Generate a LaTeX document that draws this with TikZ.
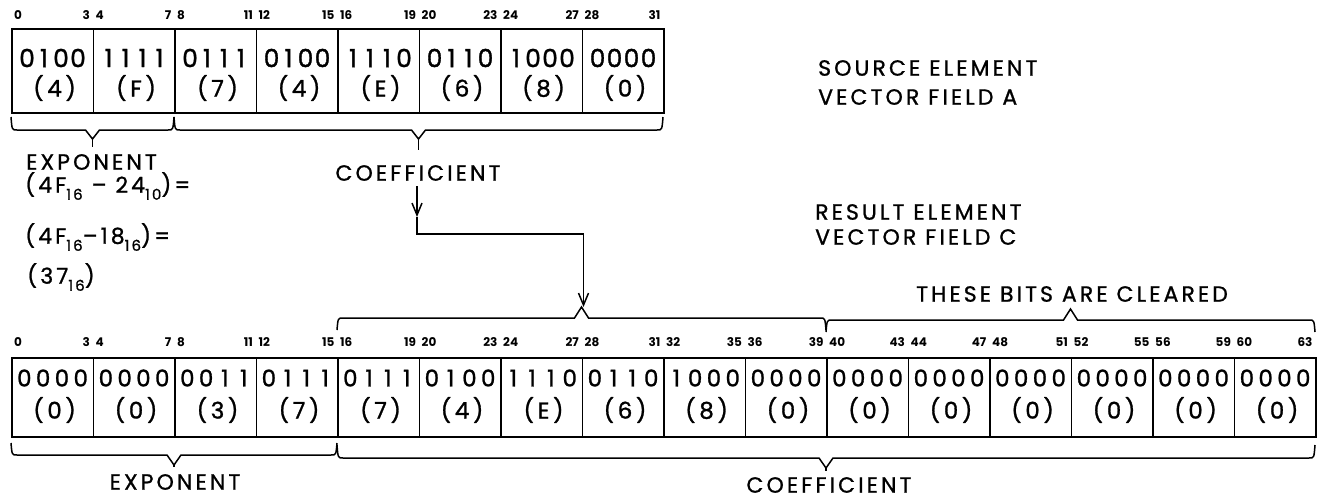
\documentclass[tikz,border=0pt]{standalone}
\usepackage{fontspec}
\setmainfont{Poppins}
\newfontfamily\lblfont{Poppins}[LetterSpace=14,FakeBold=1]
\newfontfamily\cellfont{Poppins}[FakeBold=1.2]
\newfontfamily\hexfont{Poppins}[LetterSpace=16,FakeBold=1.2]
\usetikzlibrary{arrows.meta,calc}
\newcommand\sbs[1]{\raisebox{-0.32em}{\fontsize{15}{15}\selectfont #1}}
\newlength\dgw
\newcommand\fourd[4]{\makebox[\dgw][c]{#1}\makebox[\dgw][c]{#2}\makebox[\dgw][c]{#3}\makebox[\dgw][c]{#4}}
% brace: #1 xa, #2 xb, #3 end y, #4 bar y, #5 tip y, #6 stem end y
\newcommand\mybrace[6]{%
  \draw[brace] (#1,#3) .. controls ({#1+1},#4) .. ({#1+6},#4) -- ({(#1+#2)/2-7},#4) -- ({(#1+#2)/2},#5)
     -- ({(#1+#2)/2+7},#4) -- ({#2-6},#4) .. controls ({#2-1},#4) .. (#2,#3);
  \draw[brace] ({(#1+#2)/2},#5) -- ({(#1+#2)/2},#6);}
\begin{document}
\begin{tikzpicture}[x=1pt,y=-1pt,
  reg/.style={draw,line width=1.6pt,minimum width=81.5pt,inner sep=0pt,anchor=north west},
  bina/.style={font={\cellfont\fontsize{25}{25}\selectfont\setlength\dgw{17pt}},inner sep=0pt},
  binc/.style={font={\cellfont\fontsize{23}{23}\selectfont\setlength\dgw{18.8pt}},inner sep=0pt},
  hex/.style={font={\hexfont\fontsize{23}{23}\selectfont},inner sep=0pt},
  bitno/.style={font=\bfseries\fontsize{12}{12}\selectfont,inner sep=0pt},
  lbl/.style={font={\lblfont\fontsize{22}{22}\selectfont},inner sep=0pt},
  brace/.style={line width=1.5pt,line join=miter},
  conn/.style={line width=1.5pt,-{Straight Barb[length=12pt,width=10pt,line width=1.5pt]}}]
\useasboundingbox (0,0) rectangle (1324,498);

% source register A
\foreach \b/\h [count=\i from 0] in {0100/4,1111/F,0111/7,0100/4,1110/E,0110/6,1000/8,0000/0}{
  \node[reg,minimum height=84pt] (a\i) at ({11+81.5*\i},28) {};
  \node[bina] (ab\i) at ($(a\i.north)+(0,30)$) {\expandafter\fourd\b};
  \node[hex] (ah\i) at ($(a\i.north)+(2,60)$) {(\h)};
  \pgfmathtruncatemacro\s{4*\i}\pgfmathtruncatemacro\e{4*\i+3}
  \node[bitno,anchor=west] (as\i) at ($(a\i.north west)+(3,-13)$) {\s};
  \node[bitno,anchor=east] (ae\i) at ($(a\i.north east)+(-4,-13)$) {\e};
}

% result register C
\foreach \b/\h [count=\i from 0] in {0000/0,0000/0,0011/3,0111/7,0111/7,0100/4,1110/E,0110/6,1000/8,0000/0,0000/0,0000/0,0000/0,0000/0,0000/0,0000/0}{
  \node[reg,minimum height=79pt] (c\i) at ({11+81.5*\i},357) {};
  \node[binc] (cb\i) at ($(c\i.north)+(0,21)$) {\expandafter\fourd\b};
  \node[hex] (ch\i) at ($(c\i.north)+(2,53)$) {(\h)};
  \pgfmathtruncatemacro\s{4*\i}\pgfmathtruncatemacro\e{4*\i+3}
  \node[bitno,anchor=west] (cs\i) at ($(c\i.north west)+(3,-15)$) {\s};
  \node[bitno,anchor=east] (ce\i) at ($(c\i.north east)+(-4,-15)$) {\e};
}

% braces
\mybrace{11}{174}{117}{130}{139}{147}
\mybrace{174}{663}{117}{130}{139}{150}
\mybrace{337}{826}{330}{318}{307}{307}
\mybrace{826}{1315}{332}{320}{309}{309}
\mybrace{11}{337}{443}{455}{465}{467}
\mybrace{337}{1315}{445}{458}{468}{471}

% labels
\node[lbl] (coefA) at (418,173) {COEFFICIENT};
\node[lbl,anchor=west] (expA) at (26,162) {EXPONENT};
\node[lbl,anchor=west] (eq1) at (25,186) {(4F\sbs{16} – 24\sbs{10})=};
\node[lbl,anchor=west] (eq2) at (25,237) {(4F\sbs{16}–18\sbs{16})=};
\node[lbl,anchor=west] (eq3) at (27,277) {(37\sbs{16})};
\node[lbl,anchor=west] (srcA) at (818,68) {SOURCE ELEMENT};
\node[lbl,anchor=west] (srcB) at (818,97) {VECTOR FIELD A};
\node[lbl,anchor=west] (resA) at (815,212) {RESULT ELEMENT};
\node[lbl,anchor=west] (resB) at (815,237) {VECTOR FIELD C};
\node[lbl] (clr) at (1072,294) {THESE BITS ARE CLEARED};
\node[lbl] (expC) at (175,482) {EXPONENT};
\node[lbl] (coefC) at (829,485) {COEFFICIENT};

% connector
\coordinate (mid) at (417,217);
\coordinate (bend) at (417,234);
\coordinate (tip) at (583.5,307);
\draw[conn,shorten <=5pt] (coefA.south -| mid) -- (mid);
\draw[conn] (mid) -- (bend) -| (tip);
\end{tikzpicture}
\end{document}
